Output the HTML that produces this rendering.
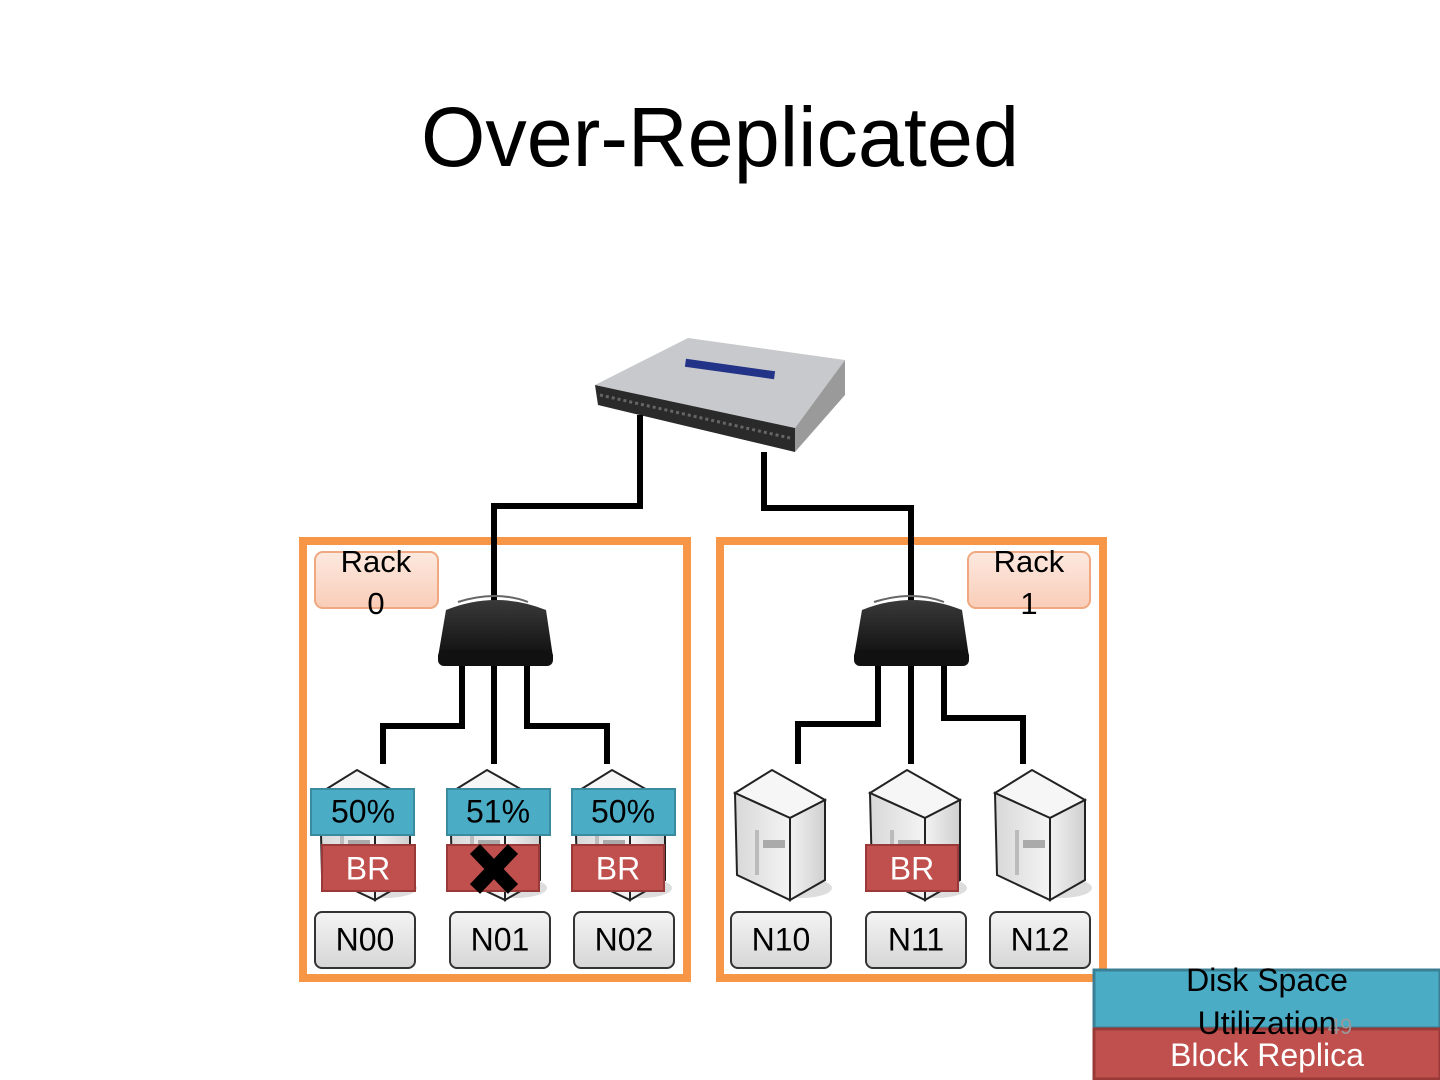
<!DOCTYPE html>
<html><head><meta charset="utf-8"><style>
html,body{margin:0;padding:0;background:#fff;}
svg{display:block;font-family:"Liberation Sans",sans-serif;}
</style></head><body>
<svg width="1440" height="1080" viewBox="0 0 1440 1080" xmlns="http://www.w3.org/2000/svg">
<defs>
<linearGradient id="gl" x1="0" x2="1"><stop offset="0" stop-color="#d8d8d8"/><stop offset="1" stop-color="#f4f4f4"/></linearGradient>
<linearGradient id="gr" x1="0" x2="1"><stop offset="0" stop-color="#f2f2f2"/><stop offset="1" stop-color="#cfcfcf"/></linearGradient>
<linearGradient id="nb" x1="0" y1="0" x2="0" y2="1"><stop offset="0" stop-color="#f4f4f4"/><stop offset="1" stop-color="#d6d6d6"/></linearGradient>
<linearGradient id="rk" x1="0" y1="0" x2="0" y2="1"><stop offset="0" stop-color="#fde9e0"/><stop offset="1" stop-color="#f9cdb8"/></linearGradient>
<linearGradient id="sw" x1="0" y1="0" x2="0" y2="1"><stop offset="0" stop-color="#3a3a3a"/><stop offset="1" stop-color="#0a0a0a"/></linearGradient>
<g id="srv">
<ellipse cx="65" cy="118" rx="32" ry="10" fill="#ddd"/>
<polygon points="0,23 37,0 90,30 55,48" fill="#f6f6f6" stroke="#222" stroke-width="2"/>
<polygon points="0,23 55,48 55,130 2,105" fill="url(#gl)" stroke="#222" stroke-width="2"/>
<polygon points="55,48 90,30 90,110 55,130" fill="url(#gr)" stroke="#222" stroke-width="2"/>
<rect x="20" y="60" width="4" height="45" fill="#bbb"/>
<rect x="28" y="70" width="22" height="8" fill="#aaa"/>
</g>
<g id="rsw">
<path d="M8,18 Q58,-2 108,18 L115,65 Q58,80 0,65 Z" fill="url(#sw)"/>
<rect x="0" y="58" width="115" height="16" rx="6" fill="#111"/>
<path d="M20,10 Q58,-2 90,10" stroke="#666" stroke-width="2" fill="none"/>
</g>
</defs>

<text x="720" y="166" font-size="84" text-anchor="middle" fill="#000" textLength="598" lengthAdjust="spacingAndGlyphs">Over-Replicated</text>

<!-- top switch -->
<polygon points="595,385 688,338 845,360 795,428" fill="#c8c9cc"/>
<polygon points="595,385 795,428 795,452 598,405" fill="#2a2a2a"/>
<polygon points="795,428 845,360 845,395 795,452" fill="#9a9a9a"/>
<line x1="600" y1="395" x2="790" y2="438" stroke="#666" stroke-width="3" stroke-dasharray="3,3"/>
<rect x="685" y="365" width="90" height="8" fill="#223388" transform="rotate(8 730 369)"/>

<!-- rack boxes -->
<rect x="303" y="541" width="384" height="437" fill="none" stroke="#F79646" stroke-width="8"/>
<rect x="720" y="541" width="383" height="437" fill="none" stroke="#F79646" stroke-width="8"/>

<!-- cables -->
<g stroke="#000" stroke-width="6" fill="none">
<polyline points="640,415 640,506 494,506 494,605"/>
<polyline points="764,452 764,508 911,508 911,605"/>
<polyline points="462,660 462,726 383,726 383,764"/>
<line x1="494" y1="660" x2="494" y2="764"/>
<polyline points="527,660 527,726 607,726 607,764"/>
<polyline points="878,660 878,724 798,724 798,764"/>
<line x1="911" y1="660" x2="911" y2="764"/>
<polyline points="944,660 944,718 1023,718 1023,764"/>
</g>

<use href="#rsw" x="438" y="592"/>
<use href="#rsw" x="854" y="592"/>

<!-- rack labels -->
<rect x="315" y="552" width="123" height="56" rx="8" fill="url(#rk)" stroke="#f0a880" stroke-width="2"/>
<text x="376" y="572" font-size="31" text-anchor="middle">Rack</text>
<text x="376" y="614" font-size="31" text-anchor="middle">0</text>
<rect x="968" y="552" width="122" height="56" rx="8" fill="url(#rk)" stroke="#f0a880" stroke-width="2"/>
<text x="1029" y="572" font-size="31" text-anchor="middle">Rack</text>
<text x="1029" y="614" font-size="31" text-anchor="middle">1</text>

<!-- servers -->
<use href="#srv" x="320" y="770"/>
<use href="#srv" x="450" y="770"/>
<use href="#srv" x="575" y="770"/>
<use href="#srv" x="735" y="770"/>
<use href="#srv" x="870" y="770"/>
<use href="#srv" x="995" y="770"/>

<!-- util -->
<g font-size="32" text-anchor="middle" dominant-baseline="middle">
<rect x="311" y="789" width="103" height="46" fill="#4BACC6" stroke="#3a8aa0" stroke-width="2"/>
<text x="363" y="814">50%</text>
<rect x="447" y="789" width="103" height="46" fill="#4BACC6" stroke="#3a8aa0" stroke-width="2"/>
<text x="498" y="814">51%</text>
<rect x="572" y="789" width="103" height="46" fill="#4BACC6" stroke="#3a8aa0" stroke-width="2"/>
<text x="623" y="814">50%</text>
</g>
<g font-size="32" text-anchor="middle" dominant-baseline="middle" fill="#fff">
<rect x="322" y="845" width="93" height="46" fill="#C0504D" stroke="#9a3a38" stroke-width="2"/>
<text x="368" y="871">BR</text>
<rect x="447" y="845" width="92" height="46" fill="#C0504D" stroke="#9a3a38" stroke-width="2"/>
<rect x="572" y="845" width="92" height="46" fill="#C0504D" stroke="#9a3a38" stroke-width="2"/>
<text x="618" y="871">BR</text>
<rect x="866" y="845" width="92" height="46" fill="#C0504D" stroke="#9a3a38" stroke-width="2"/>
<text x="912" y="871">BR</text>
</g>
<g stroke="#000" stroke-width="14" stroke-linecap="butt">
<line x1="475" y1="849" x2="513" y2="889"/>
<line x1="513" y1="849" x2="475" y2="889"/>
</g>

<!-- node labels -->
<g font-size="32" text-anchor="middle" dominant-baseline="middle">
<rect x="315" y="912" width="100" height="56" rx="7" fill="url(#nb)" stroke="#333" stroke-width="2"/><text x="365" y="942">N00</text>
<rect x="450" y="912" width="100" height="56" rx="7" fill="url(#nb)" stroke="#333" stroke-width="2"/><text x="500" y="942">N01</text>
<rect x="574" y="912" width="100" height="56" rx="7" fill="url(#nb)" stroke="#333" stroke-width="2"/><text x="624" y="942">N02</text>
<rect x="731" y="912" width="100" height="56" rx="7" fill="url(#nb)" stroke="#333" stroke-width="2"/><text x="781" y="942">N10</text>
<rect x="866" y="912" width="100" height="56" rx="7" fill="url(#nb)" stroke="#333" stroke-width="2"/><text x="916" y="942">N11</text>
<rect x="990" y="912" width="100" height="56" rx="7" fill="url(#nb)" stroke="#333" stroke-width="2"/><text x="1040" y="942">N12</text>
</g>

<!-- legend -->
<rect x="1094" y="970" width="346" height="58" fill="#4BACC6" stroke="#3a7f94" stroke-width="3"/>
<rect x="1094" y="1029" width="346" height="50" fill="#C0504D" stroke="#9a3a38" stroke-width="3"/>
<text x="1267" y="991" font-size="32" text-anchor="middle">Disk Space</text>
<text x="1340" y="1034" font-size="22" fill="#999" text-anchor="middle">49</text>
<text x="1267" y="1034" font-size="32" text-anchor="middle">Utilization</text>
<text x="1267" y="1066" font-size="32" text-anchor="middle" fill="#fff">Block Replica</text>
</svg>
</body></html>
